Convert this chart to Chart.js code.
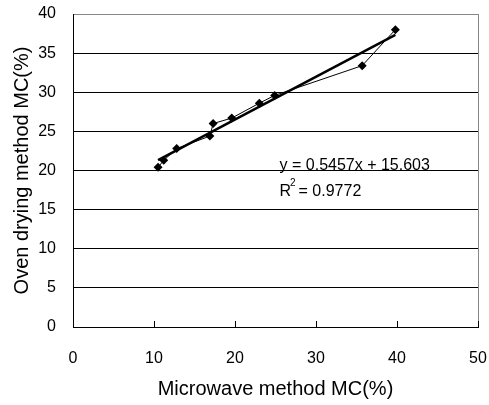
<!DOCTYPE html>
<html><head><meta charset="utf-8">
<script src="https://cdn.jsdelivr.net/npm/chart.js@4/dist/chart.umd.min.js"></script>
<style>html,body{margin:0;padding:0;background:#fff}#wrap{width:489px;height:405px}</style>
</head><body><div id="wrap"><canvas id="c" width="489" height="405"></canvas></div>
<script>
const microwaveMC = [10.5, 11.2, 12.8, 16.9, 17.3, 19.6, 23.0, 24.9, 35.7, 39.8];
const ovenMC      = [20.4, 21.3, 22.8, 24.4, 26.0, 26.7, 28.6, 29.6, 33.4, 38.0];
const slope = 0.5457, intercept = 15.603;
const eqText = "y = 0.5457x + 15.603";
const r2Text = "= 0.9772";
const xTicks = [0, 10, 20, 30, 40, 50];
const yTicks = [0, 5, 10, 15, 20, 25, 30, 35, 40];

const pts = microwaveMC.map((x, i) => ({x, y: ovenMC[i]}));
const xmin = Math.min(...microwaveMC), xmax = Math.max(...microwaveMC);
const trend = [{x: xmin, y: slope * xmin + intercept}, {x: xmax, y: slope * xmax + intercept}];

const FONT = "'Liberation Sans', Arial, sans-serif";

function noPad(s) { s.paddingTop = 0; s.paddingBottom = 0; s.paddingLeft = 0; s.paddingRight = 0; }

const deco = {
  id: 'deco',
  afterDraw(chart) {
    const {ctx, chartArea: a, scales: {x, y}} = chart;
    ctx.save();
    ctx.strokeStyle = '#888';
    ctx.lineWidth = 1;
    ctx.beginPath();
    ctx.moveTo(a.right + 0.5, a.top); ctx.lineTo(a.right + 0.5, a.bottom);
    ctx.stroke();
    ctx.strokeStyle = '#000';
    xTicks.forEach(v => {
      if (v === 0) return;
      const px = Math.round(x.getPixelForValue(v)) + 0.5;
      ctx.beginPath(); ctx.moveTo(px, a.bottom); ctx.lineTo(px, a.bottom - 6); ctx.stroke();
    });
    ctx.fillStyle = '#000';
    ctx.font = "16px " + FONT;
    ctx.textBaseline = 'alphabetic';
    const tx = x.getPixelForValue(25.5);
    ctx.fillText(eqText, tx, y.getPixelForValue(20.1));
    const ry = y.getPixelForValue(16.8);
    ctx.fillText("R", tx, ry);
    const rw = ctx.measureText("R").width;
    ctx.font = "10px " + FONT;
    ctx.fillText("2", tx + rw - 1, ry - 10);
    ctx.font = "16px " + FONT;
    ctx.fillText(" " + r2Text, tx + rw + 3, ry);
    ctx.restore();
  }
};

new Chart(document.getElementById('c'), {
  type: 'scatter',
  data: {
    datasets: [
      {data: pts, showLine: true, borderColor: '#000', borderWidth: 1, backgroundColor: '#000',
       pointStyle: 'rectRot', pointRadius: 4.5, pointBorderWidth: 0, order: 2},
      {data: trend, showLine: true, borderColor: '#000', borderWidth: 2.5, pointRadius: 0, order: 1}
    ]
  },
  options: {
    responsive: false, animation: false, devicePixelRatio: 1,
    layout: {padding: {left: 0, right: 11, top: 14, bottom: 0}},
    plugins: {legend: {display: false}, tooltip: {enabled: false}},
    scales: {
      x: {
        type: 'linear', min: 0, max: 50,
        afterBuildTicks: s => { s.ticks = xTicks.map(v => ({value: v})); },
        afterFit: s => { s.height = 78; noPad(s); },
        grid: {display: false, drawTicks: false},
        border: {display: true, color: '#000', width: 1},
        ticks: {color: '#000', font: {family: FONT, size: 16}, padding: 22, maxRotation: 0},
        title: {display: true, text: 'Microwave method MC(%)', color: '#000',
                font: {family: FONT, size: 20}, padding: {top: 1}}
      },
      y: {
        type: 'linear', min: 0, max: 40,
        afterBuildTicks: s => { s.ticks = yTicks.map(v => ({value: v})); },
        afterFit: s => { s.width = 73; noPad(s); },
        grid: {color: c => c.tick && c.tick.value === 40 ? '#888' : '#000', lineWidth: 1, drawTicks: false},
        border: {display: true, color: '#000', width: 1},
        ticks: {color: '#000', font: {family: FONT, size: 16}, padding: 17},
        title: {display: true, text: 'Oven drying method MC(%)', color: '#000',
                font: {family: FONT, size: 20}, padding: {top: 10, bottom: 0}}
      }
    }
  },
  plugins: [deco]
});
</script>
</body></html>
